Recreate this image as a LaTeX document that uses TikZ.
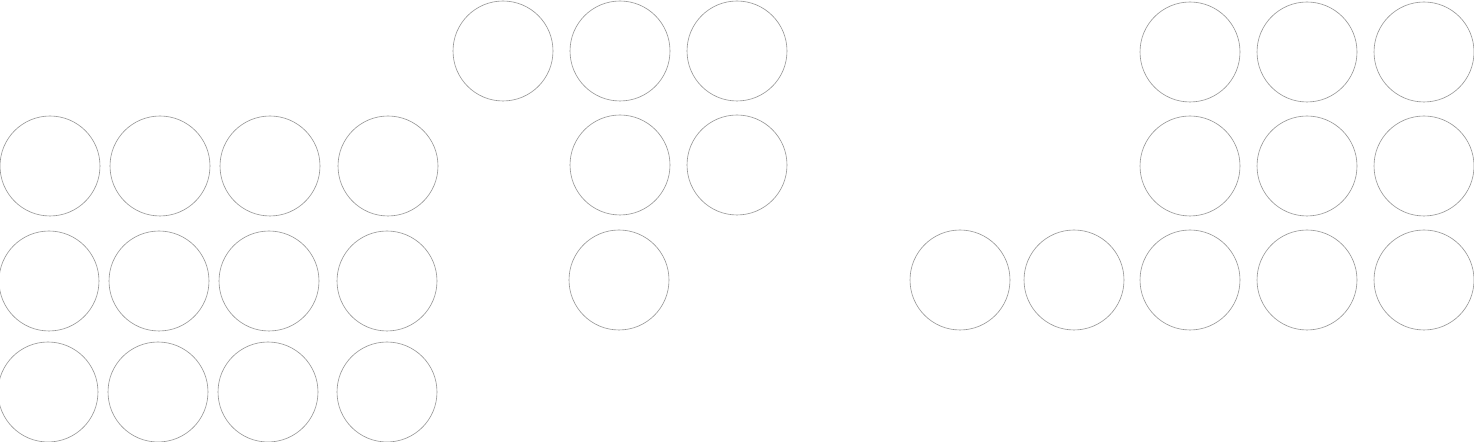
\documentclass[tikz,border=0pt]{standalone}
\usepackage{xcolor}
\usepackage{tikz}
\usetikzlibrary{positioning}
\definecolor{ringGray}{RGB}{150,150,150}

\begin{document}
\begin{tikzpicture}[
    ball/.style={circle, draw=ringGray, line width=0.35pt, minimum size=2cm,
        inner sep=0pt},
    x=0.02cm, y=0.02cm,
    ]
    \useasboundingbox (0,0) rectangle (1474,442);
    % Left block, 3 x 4
    \node[ball] (a11) at (50,276) {};
    \node[ball] (a12) at (160,276) {};
    \node[ball] (a13) at (270,276) {};
    \node[ball] (a14) at (388,276) {};
    \node[ball] (a21) at (49,161) {};
    \node[ball] (a22) at (159,161) {};
    \node[ball] (a23) at (269,161) {};
    \node[ball] (a24) at (387,161) {};
    \node[ball] (a31) at (48,50) {};
    \node[ball] (a32) at (158,50) {};
    \node[ball] (a33) at (268,50) {};
    \node[ball] (a34) at (387,50) {};
    % Middle block, staircase
    \node[ball] (b11) at (503,391) {};
    \node[ball] (b12) at (620,391) {};
    \node[ball] (b13) at (737,391) {};
    \node[ball] (b22) at (620,277) {};
    \node[ball] (b23) at (737,277) {};
    \node[ball] (b32) at (619,162) {};
    % Right block
    \node[ball] (c13) at (1190,390) {};
    \node[ball] (c14) at (1307,390) {};
    \node[ball] (c15) at (1424,390) {};
    \node[ball] (c23) at (1190,276) {};
    \node[ball] (c24) at (1307,276) {};
    \node[ball] (c25) at (1424,276) {};
    \node[ball] (c31) at (960,162) {};
    \node[ball] (c32) at (1074,162) {};
    \node[ball] (c33) at (1190,162) {};
    \node[ball] (c34) at (1307,162) {};
    \node[ball] (c35) at (1424,162) {};
\end{tikzpicture}
\end{document}
